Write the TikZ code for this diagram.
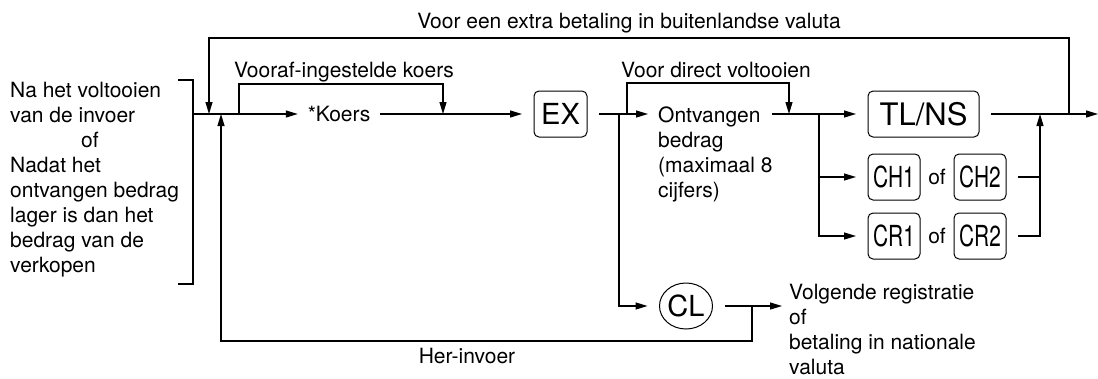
\documentclass[tikz,border=0pt]{standalone}
\usepackage{fontspec}
\setmainfont{TeX Gyre Heros}
\usepackage{graphicx}
\usetikzlibrary{arrows.meta,calc,shapes.geometric}
\tikzset{
  lbl/.style  ={inner sep=0pt, outer xsep=10pt, font=\fontsize{21}{25}\selectfont},
  txt/.style  ={inner sep=0pt, align=left, font=\fontsize{21}{25}\selectfont},
  kbox/.style ={draw, rectangle, rounded corners=5pt, line width=1pt, minimum height=46pt, minimum width=52pt, inner sep=0pt, outer xsep=12pt, font=\fontsize{29}{29}\selectfont},
  kcirc/.style={draw, ellipse, line width=1pt, minimum height=46pt, minimum width=53pt, inner sep=0pt, outer xsep=12pt, font=\fontsize{29}{29}\selectfont},
  ln/.style   ={line width=1.2pt},
  arr/.style  ={-{Triangle[length=12pt,width=7pt]}, line width=1.2pt},
}
\newcommand{\narrowkey}[1]{\scalebox{0.72}[1]{#1}}

\begin{document}
\begin{tikzpicture}[x=1pt,y=-1pt]
  \useasboundingbox (0,0) rectangle (1098,378);

  % keys
  \node[kbox, minimum width=53pt] (ex) at (560.5,114) {EX};
  \node[kbox, minimum width=111pt, font=\fontsize{31}{31}\selectfont] (tlns) at (923.5,114) {TL/NS};
  \node[kbox] (ch1) at (894,177) {\narrowkey{CH1}};
  \node[kbox] (ch2) at (980,177) {\narrowkey{CH2}};
  \node[kbox] (cr1) at (894,236) {\narrowkey{CR1}};
  \node[kbox] (cr2) at (980,236) {\narrowkey{CR2}};
  \node[lbl] (of1) at ($(ch1)!0.5!(ch2)$) {of};
  \node[lbl] (of2) at ($(cr1)!0.5!(cr2)$) {of};
  \node[kcirc] (cl) at (686,306) {CL};

  % texts
  \node[txt, anchor=north west] (cond) at (10,82) {Na het voltooien\\van de invoer\\\hspace*{71pt}of\\Nadat het\\ontvangen bedrag\\lager is dan het\\bedrag van de\\verkopen};
  \node[lbl] (koers) at (339,114) {*Koers};
  \node[txt, anchor=north west] (ontv) at (658,106.5) {Ontvangen\\bedrag\\(maximaal 8\\cijfers)};
  \node[txt, anchor=north west] (volg) at (789,284) {Volgende registratie\\of\\betaling in nationale\\valuta};
  \node[lbl, anchor=base] (extra) at (629,28) {Voor een extra betaling in buitenlandse valuta};
  \node[lbl, anchor=base] (vooraf) at (344,77) {Vooraf-ingestelde koers};
  \node[lbl, anchor=base] (direct) at (716,77) {Voor direct voltooien};
  \node[lbl, anchor=base] (her) at (467,363) {Her-invoer};

  % junctions
  \coordinate (start)   at (193,114);
  \coordinate (jtop)    at (209,114);
  \coordinate (jher)    at (221,114);
  \coordinate (jvor)    at (239,114);
  \coordinate (jvorend) at (443,114);
  \coordinate (jcl)     at (619,114);
  \coordinate (jdir)    at (627,114);
  \coordinate (ontvin)  at (648,114);
  \coordinate (ontvout) at (772,114);
  \coordinate (jdirend) at (789,114);
  \coordinate (jsplit)  at (819,114);
  \coordinate (jmerge)  at (1040,114);
  \coordinate (jout)    at (1069,114);
  \coordinate (outend)  at (1098,114);
  \coordinate (clout)   at (752,306);
  \coordinate (volgin)  at (782,306);

  % bracket
  \draw[ln] (178,80) -| (start) |- (178,284);

  % main flow
  \draw[arr] (start) -- (koers);
  \draw[arr] (koers) -- (ex);
  \draw[arr] (ex) -- (ontvin);
  \draw[ln]  (ontvout) -- (jsplit);
  \draw[arr] (jsplit) -- (tlns);
  \draw[arr] (jsplit) |- (ch1);
  \draw[arr] (jsplit) |- (cr1);
  \draw[ln]  (tlns) -- (jout);
  \draw[arr] (jout) -- (outend);
  \draw[ln]  (ch2) -- (ch2 -| jmerge);
  \draw[arr] (cr2) -| (jmerge);

  % bypasses and loops
  \draw[arr] (jvor) -- ++(0,-30) -| (jvorend);
  \draw[arr] (jdir) -- ++(0,-31) -| (jdirend);
  \draw[arr] (jout) -- ++(0,-76) -| (jtop);
  \draw[arr] (jcl) |- (cl);
  \draw[arr] (cl) -- (volgin);
  \draw[arr] (clout) -- ++(0,35) -| (jher);
\end{tikzpicture}
\end{document}
